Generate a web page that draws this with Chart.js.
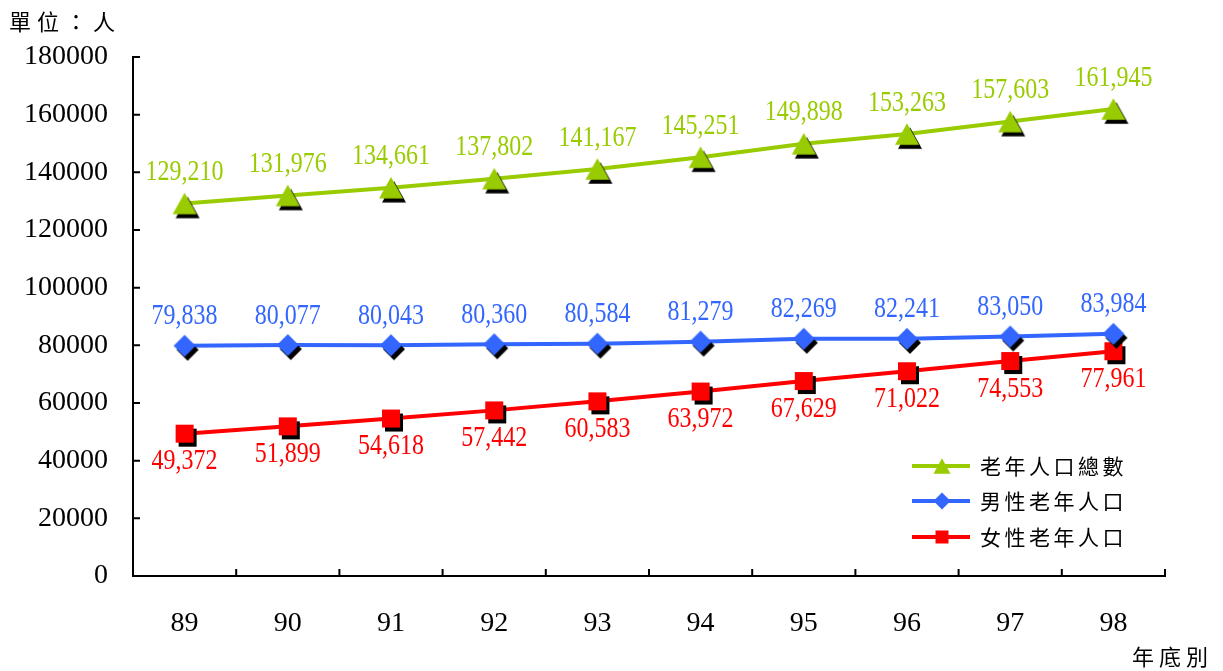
<!DOCTYPE html>
<html>
<head>
<meta charset="utf-8">
<script src="https://cdn.jsdelivr.net/npm/chart.js@4/dist/chart.umd.min.js"></script>
<style>
  html, body { margin: 0; padding: 0; background: #fff; }
  #wrap { width: 1223px; height: 671px; }
</style>
</head>
<body>
<div id="wrap"><canvas id="popChart" width="1223" height="671"></canvas></div>
<script>
// data
const years = ["89", "90", "91", "92", "93", "94", "95", "96", "97", "98"];
const totalElder = [129210, 131976, 134661, 137802, 141167, 145251, 149898, 153263, 157603, 161945];
const maleElder = [79838, 80077, 80043, 80360, 80584, 81279, 82269, 82241, 83050, 83984];
const femaleElder = [49372, 51899, 54618, 57442, 60583, 63972, 67629, 71022, 74553, 77961];
const seriesNames = ["老年人口總數", "男性老年人口", "女性老年人口"];
const yTicks = [0, 20000, 40000, 60000, 80000, 100000, 120000, 140000, 160000, 180000];

const GREEN = "#99CC00";
const BLUE = "#3366FF";
const RED = "#FF0000";
const SERIF = "'Liberation Serif', 'Times New Roman', serif";
const CJK = "'Noto Sans CJK TC', 'Noto Sans CJK SC', sans-serif";

// marker images with a black drop shadow
function shapePath(ctx, shape, cx, cy, s) {
  ctx.beginPath();
  if (shape === "triangle") {
    ctx.moveTo(cx, cy - s * 0.45);
    ctx.lineTo(cx + s / 2, cy + s * 0.45);
    ctx.lineTo(cx - s / 2, cy + s * 0.45);
  } else if (shape === "diamond") {
    ctx.moveTo(cx, cy - s / 2);
    ctx.lineTo(cx + s / 2, cy);
    ctx.lineTo(cx, cy + s / 2);
    ctx.lineTo(cx - s / 2, cy);
  } else {
    ctx.rect(cx - s / 2, cy - s / 2, s, s);
  }
  ctx.closePath();
}

function makeMarker(shape, color, size, shadow) {
  const c = document.createElement("canvas");
  c.width = 36;
  c.height = 36;
  const ctx = c.getContext("2d");
  if (shadow) {
    ctx.fillStyle = "#000";
    shapePath(ctx, shape, 18 + 3, 18 + 4, size);
    ctx.fill();
  }
  ctx.fillStyle = color;
  shapePath(ctx, shape, 18, 18, size);
  ctx.fill();
  return c;
}

const markers = [
  makeMarker("triangle", GREEN, 24, true),
  makeMarker("diamond", BLUE, 22, true),
  makeMarker("square", RED, 18, true),
];
const legendShapes = ["triangle", "diamond", "square"];
const legendSizes = [17, 17, 13];
const colors = [GREEN, BLUE, RED];
const labelOffsets = [-31, -29, 28];

// value labels above / below points (a bit taller than wide, like the original)
const valueLabels = {
  id: "valueLabels",
  afterDatasetsDraw(chart) {
    const ctx = chart.ctx;
    chart.data.datasets.forEach((ds, di) => {
      const meta = chart.getDatasetMeta(di);
      meta.data.forEach((pt, i) => {
        ctx.save();
        ctx.translate(pt.x, pt.y + labelOffsets[di]);
        ctx.scale(1, 1.2);
        ctx.font = "24px " + SERIF;
        ctx.textAlign = "center";
        ctx.textBaseline = "middle";
        ctx.fillStyle = colors[di];
        ctx.fillText(ds.data[i].toLocaleString("en-US"), 0, 0);
        ctx.restore();
      });
    });
  },
};

function drawSpaced(ctx, text, x, y, step) {
  for (let i = 0; i < text.length; i++) {
    ctx.fillText(text[i], x + i * step, y);
  }
}

// inner tick marks, titles and legend
const extras = {
  id: "extras",
  afterDraw(chart) {
    const ctx = chart.ctx;
    const area = chart.chartArea;
    const xs = chart.scales.x;
    const ys = chart.scales.y;
    ctx.save();
    ctx.strokeStyle = "#000";
    ctx.lineWidth = 2;
    ctx.beginPath();
    ys.ticks.forEach((t, i) => {
      const py = ys.getPixelForTick(i);
      ctx.moveTo(area.left, py);
      ctx.lineTo(area.left + 7, py);
    });
    for (let i = 0; i <= years.length; i++) {
      const px = xs.getPixelForValue(i - 0.5);
      ctx.moveTo(px, area.bottom);
      ctx.lineTo(px, area.bottom - 7);
    }
    ctx.stroke();

    ctx.fillStyle = "#000";
    ctx.font = "22px " + CJK;
    ctx.textAlign = "left";
    ctx.textBaseline = "middle";
    drawSpaced(ctx, "單位：人", 9, 22, 28);
    drawSpaced(ctx, "年底別", 1132, 657, 27);

    // legend
    const lx = area.right - 253;
    const rows = [area.bottom - 110, area.bottom - 75, area.bottom - 39];
    ctx.font = "21px " + CJK;
    rows.forEach((ry, i) => {
      ctx.strokeStyle = colors[i];
      ctx.lineWidth = 4;
      ctx.beginPath();
      ctx.moveTo(lx, ry);
      ctx.lineTo(lx + 58, ry);
      ctx.stroke();
      ctx.fillStyle = colors[i];
      shapePath(ctx, legendShapes[i], lx + 30, ry, legendSizes[i]);
      ctx.fill();
      ctx.fillStyle = "#000";
      drawSpaced(ctx, seriesNames[i], lx + 68, ry, 24.5);
    });
    ctx.restore();
  },
};

function lineSet(label, data, i) {
  return {
    label: label,
    data: data,
    borderColor: colors[i],
    backgroundColor: colors[i],
    borderWidth: 4,
    pointStyle: markers[i],
    pointRadius: 12,
    tension: 0,
  };
}

const popCtx = document.getElementById("popChart").getContext("2d");
const popChart = new Chart(popCtx, {
  type: "line",
  data: {
    labels: years,
    datasets: [
      lineSet(seriesNames[0], totalElder, 0),
      lineSet(seriesNames[1], maleElder, 1),
      lineSet(seriesNames[2], femaleElder, 2),
    ],
  },
  options: {
    responsive: false,
    animation: false,
    layout: { padding: { top: 57, right: 58, left: 0, bottom: 0 } },
    plugins: {
      legend: { display: false },
      tooltip: { enabled: false },
    },
    scales: {
      x: {
        offset: true,
        grid: { display: false, drawTicks: false },
        border: { display: true, color: "#000", width: 2 },
        ticks: { color: "#000", font: { family: SERIF, size: 28 }, padding: 31 },
        afterFit: (scale) => { scale.height = 95; },
      },
      y: {
        min: 0,
        max: 180000,
        afterBuildTicks: (scale) => { scale.ticks = yTicks.map((v) => ({ value: v })); },
        grid: { display: false, drawTicks: false },
        border: { display: true, color: "#000", width: 2 },
        ticks: {
          color: "#000",
          font: { family: SERIF, size: 28 },
          padding: 25,
          callback: (v) => String(v),
        },
        afterFit: (scale) => { scale.width = 133; },
      },
    },
  },
  plugins: [valueLabels, extras],
});
</script>
</body>
</html>
